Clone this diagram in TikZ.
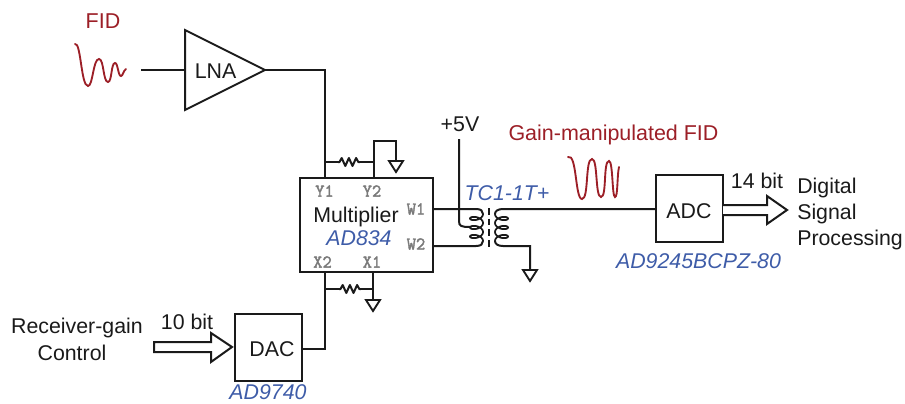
\documentclass[tikz,border=0pt]{standalone}
\usepackage{fontspec}
\setmainfont{Liberation Sans}
\newfontfamily\pinfont[FakeBold=2.2]{Latin Modern Mono}
\usetikzlibrary{calc}
\definecolor{partblue}{HTML}{3E5CA8}
\definecolor{sigred}{HTML}{9C1F27}
\definecolor{pingrey}{HTML}{7A7A7A}
\definecolor{inkk}{HTML}{1A1A1A}
\tikzset{
  wire/.style={draw=inkk,line width=1.5pt,line join=miter},
  blk/.style={draw=inkk,line width=1.5pt,inner sep=0pt},
  lbl/.style={inner sep=0pt,text=inkk,font=\fontsize{16}{18}\selectfont},
  part/.style={inner sep=0pt,text=partblue,font=\fontsize{16}{18}\selectfont\itshape},
  sig/.style={inner sep=0pt,text=sigred,font=\fontsize{16.1}{18}\selectfont},
  pin/.style={inner sep=0pt,text=pingrey,font=\pinfont\fontsize{13.5}{14}\selectfont},
  wave/.style={draw=sigred,line width=1.4pt,line cap=round},
  gnd/.pic={\draw[wire,line width=1.4pt] (-7,0) -- (7,0) -- (0,11) -- cycle;}
}
\newcommand{\resistor}[2]{% from x=#1 at y=#2
  \draw[wire,line join=round] (#1,#2) -- ++(1.5,0) -- ++(2.2,-4) -- ++(3.6,8) -- ++(3.6,-8) -- ++(3.6,8) -- ++(3.6,-8) -- ++(2.2,4) -- ++(1.5,0);}
\begin{document}
\begin{tikzpicture}[x=0.75pt,y=-0.75pt]
\useasboundingbox (0,0) rectangle (905,403);
% blocks
\coordinate (lnaA) at (185,30);\coordinate (lnaB) at (185,110);\coordinate (lnaout) at (265,70);\coordinate (lnain) at (185,70);
\draw[wire] (lnaA) -- (lnaout) -- (lnaB) -- cycle;
\node[lbl] (lna) at (215.5,71) {LNA};
\node[blk,minimum width=99.75pt,minimum height=70.5pt] (mult) at (366.5,225) {};
\node[blk,minimum width=50.25pt,minimum height=50.25pt] (dac) at (268.5,347.5) {};
\node[blk,minimum width=50.25pt,minimum height=50.25pt] (adc) at (689.5,208.5) {};
\node[lbl] (dact) at (272,349) {DAC};
\node[lbl] (adct) at (689,211) {ADC};
\node[lbl] (multt) at (356,217) {Multiplier};
\node[part] (ad834) at (359,238) {AD834};
\node[pin] (y1) at (324.5,191) {Y1};
\node[pin] (y2) at (372,191) {Y2};
\node[pin] (w1) at (416,209) {W1};
\node[pin] (w2) at (416,244) {W2};
\node[pin] (x2) at (322.5,262) {X2};
\node[pin] (x1) at (372,262) {X1};
% text
\node[sig] (fid) at (103,21) {FID};
\node[sig] (gfid) at (613.5,135) {Gain-manipulated FID};
\node[lbl] (v5) at (460,124) {+5V};
\node[part] (tc) at (507,193) {TC1-1T+};
\node[part] (ad9245) at (698.5,261) {AD9245BCPZ-80};
\node[part] (ad9740) at (268,392.5) {AD9740};
\node[lbl] (b14) at (757,181) {14 bit};
\node[lbl] (b10) at (187,322) {10 bit};
\node[lbl,anchor=west] (dsp1) at (797,188) {Digital};
\node[lbl,anchor=west] (dsp2) at (797,214) {Signal};
\node[lbl,anchor=west] (dsp3) at (797,240) {Processing};
\node[lbl] (rg1) at (77,328) {Receiver-gain};
\node[lbl] (rg2) at (72,353) {Control};
% coordinates
\coordinate (infree) at (141,70);
\coordinate (y1p) at (325,178);\coordinate (y2p) at (374,178);
\coordinate (x2p) at (325,272);\coordinate (x1p) at (373,272);
\coordinate (g1) at (396,161);\coordinate (g2) at (373,300);\coordinate (g3) at (530,270);
\coordinate (w1p) at (433,209);\coordinate (w2p) at (433,246);
\coordinate (adcin) at (656,209);\coordinate (dacout) at (302,349);
\coordinate (vtop) at (459,139);
% wires
\draw[wire] (infree) -- (lnain);
\draw[wire] (lnaout) -- (y1p |- lnaout) -- (y1p);
\draw[wire] (y2p) -- (y2p |- 0,141) -- (g1 |- 0,141) -- (g1);
\draw[wire] (325,162) -- (338,162);
\resistor{338}{162}
\draw[wire] (360,162) -- (374,162);
\draw[wire] (x2p) -- (dacout -| x2p) -- (dacout);
\draw[wire] (x1p) -- (g2);
\draw[wire] (325,289) -- (339,289);
\resistor{339}{289}
\draw[wire] (361,289) -- (373,289);
\pic at (g1) {gnd};
\pic at (g2) {gnd};
\pic at (g3) {gnd};
% transformer
\draw[wire] (w1p) -- (476,209) .. controls (481,209) and (483,211) .. (483,214);
\draw[wire] (w2p) -- (476,246) .. controls (481,246) and (483,244) .. (483,241);
\draw[wire] (vtop) -- (459,221) .. controls (459,226) and (461,227) .. (470,227);
\draw[draw=inkk,line width=1.3pt,smooth,samples=73,domain=0:1080,variable=\t] plot ({476.5+6.5*cos(\t)},{214+9*\t/360+3.6*sin(\t)});
\draw[draw=inkk,line width=1.3pt,smooth,samples=73,domain=0:1080,variable=\t] plot ({501.5-6.5*cos(\t)},{214+9*\t/360+3.6*sin(\t)});
\draw[draw=inkk,line width=1.3pt,dash pattern=on 5pt off 3pt] (489,208) -- (489,248);
\draw[wire] (adcin) -- (503,209) .. controls (498,209) and (495,211) .. (495,214);
\draw[wire] (g3) -- (530,246) -- (503,246) .. controls (498,246) and (495,244) .. (495,241);
% bus arrows
\draw[wire,fill=white] (723,205) -- (767,205) -- (767,196) -- (787,210) -- (767,224) -- (767,215) -- (723,215);
\draw[wire,fill=white] (154,342) -- (211,342) -- (211,333) -- (232,347) -- (211,362) -- (211,352) -- (154,352) -- cycle;
% waves
\draw[wave] (75,44) .. controls (81,42) and (81,86) .. (88,86) .. controls (93,86) and (93,59) .. (99,59) .. controls (104,59) and (103,82) .. (108,82) .. controls (112,82) and (111,63) .. (115,63) .. controls (118,63) and (118,76) .. (121,76) .. controls (123,76) and (123,71) .. (126,69);
\draw[wave] (568,157) .. controls (577,153) and (575,199) .. (582,199) .. controls (589,199) and (585,159) .. (592,159) .. controls (598,159) and (595,197) .. (601,197) .. controls (607,197) and (603,161) .. (609,161) .. controls (613,161) and (612,197) .. (615,197) .. controls (618,197) and (617,175) .. (619,167);
\end{tikzpicture}
\end{document}
